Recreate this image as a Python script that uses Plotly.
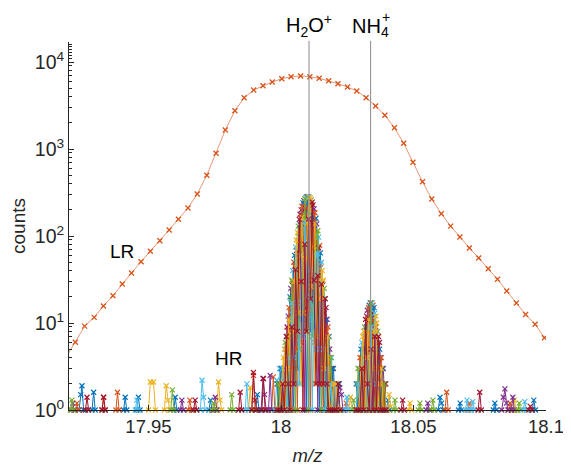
import plotly.graph_objects as go

# ---------------- data ----------------
# low-resolution (LR) spectrum
lr_mz = [17.9188, 17.9224, 17.9259, 17.9295, 17.9330, 17.9366, 17.9401, 17.9436, 17.9472, 17.9507,
         17.9543, 17.9578, 17.9613, 17.9649, 17.9684, 17.9720, 17.9755, 17.9790, 17.9826, 17.9861,
         17.9897, 17.9932, 17.9967, 18.0003, 18.0038, 18.0074, 18.0109, 18.0144, 18.0180, 18.0215,
         18.0251, 18.0286, 18.0321, 18.0357, 18.0392, 18.0428, 18.0463, 18.0498, 18.0534, 18.0569,
         18.0605, 18.0640, 18.0675, 18.0711, 18.0746, 18.0782, 18.0817, 18.0852, 18.0888, 18.0923,
         18.0959, 18.0994]
lr_counts = [4.0, 6.0, 9.2, 11.6, 15.7, 20.6, 28.1, 37.6, 50.7, 66.7,
             88.3, 117, 156, 210, 304, 499, 892, 1653, 2755, 3890,
             4766, 5343, 5891, 6428, 6776, 6903, 6776, 6500, 6097, 5632,
             5160, 4643, 3890, 3120, 2440, 1757, 1164, 703, 421, 266,
             180, 130, 97.4, 72.8, 55.9, 42.1, 31.8, 23.3, 17.0, 12.5,
             9.66, 6.78]

# high-resolution (HR) spectra, scan set A: H2O+ peak region
h2o_mz_a = [17.9985, 17.9992, 17.9999, 18.0006, 18.0013, 18.0020, 18.0027, 18.0034, 18.0041, 18.0048,
            18.0055, 18.0062, 18.0069, 18.0076, 18.0083, 18.0090, 18.0097, 18.0104, 18.0111, 18.0118,
            18.0125, 18.0132, 18.0139, 18.0146, 18.0153, 18.0160, 18.0167, 18.0174, 18.0181, 18.0188,
            18.0195, 18.0202, 18.0209, 18.0216, 18.0223]
h2o_a_blue = [2, 1, 1, 1, 1, 4, 1, 20, 5, 1, 23, 3, 85, 14, 240, 40, 1, 85, 8, 135,
              14, 160, 17, 1, 15, 1, 10, 1, 7, 1, 1, 1, 1, 1, 1]
h2o_a_orange = [1, 1, 3, 1, 1, 2, 1, 11, 2, 50, 11, 1, 47, 6, 132, 19, 282, 43, 1, 74,
                6, 88, 8, 78, 8, 1, 6, 1, 4, 1, 3, 1, 1, 1, 1]
h2o_a_yellow = [1, 1, 2, 1, 5, 1, 1, 6, 1, 28, 5, 110, 23, 2, 72, 8, 155, 20, 272, 37,
                2, 48, 3, 43, 4, 31, 3, 1, 2, 1, 2, 1, 2, 1, 1]
h2o_a_purple = [1, 1, 1, 1, 3, 1, 12, 3, 1, 15, 2, 61, 11, 200, 36, 1, 85, 9, 150, 17,
                205, 24, 1, 23, 2, 17, 1, 11, 1, 1, 1, 1, 1, 1, 1]
h2o_a_green = [1, 2, 1, 1, 2, 1, 7, 1, 31, 8, 1, 33, 5, 110, 17, 268, 42, 1, 82, 7,
               113, 11, 115, 12, 1, 9, 1, 6, 1, 4, 1, 1, 1, 1, 1]
h2o_a_lightblue = [1, 1, 1, 3, 1, 1, 4, 1, 17, 4, 75, 17, 2, 60, 7, 147, 20, 284, 41, 1,
                   62, 5, 63, 5, 50, 5, 1, 3, 1, 2, 1, 2, 1, 1, 1]
h2o_a_darkred = [1, 1, 1, 2, 1, 7, 2, 1, 9, 2, 41, 8, 155, 30, 1, 80, 8, 156, 19, 245,
                 31, 2, 35, 2, 28, 2, 19, 2, 1, 1, 1, 1, 1, 2, 1]

# HR scan set B: H2O+ peak region
h2o_mz_b = [17.9988, 17.9995, 18.0002, 18.0009, 18.0016, 18.0023, 18.0030, 18.0037, 18.0044, 18.0051,
            18.0058, 18.0065, 18.0072, 18.0079, 18.0086, 18.0093, 18.0100, 18.0107, 18.0114, 18.0121,
            18.0128, 18.0135, 18.0142, 18.0149, 18.0156, 18.0163, 18.0170, 18.0177, 18.0184, 18.0191,
            18.0198, 18.0205, 18.0212, 18.0219]
h2o_b_purple = [2, 1, 1, 3, 1, 2, 8, 25, 4, 20, 68, 7, 36, 110, 255, 28, 94, 210, 13, 46,
                93, 138, 10, 21, 30, 1, 3, 5, 5, 1, 1, 2, 1, 1]
h2o_b_green = [2, 1, 1, 2, 6, 1, 5, 19, 2, 12, 45, 130, 18, 73, 191, 14, 57, 140, 260, 23,
               61, 104, 5, 13, 20, 25, 2, 3, 4, 1, 1, 1, 2, 1]
h2o_b_lightblue = [1, 3, 1, 1, 5, 1, 3, 13, 40, 6, 30, 98, 9, 44, 128, 276, 28, 92, 195, 11,
                   37, 69, 97, 6, 13, 19, 1, 2, 3, 4, 1, 1, 2, 1]
h2o_b_darkred = [1, 2, 1, 1, 3, 9, 2, 8, 30, 3, 18, 65, 178, 22, 84, 207, 14, 56, 130, 228,
                 19, 46, 73, 3, 8, 13, 15, 1, 2, 3, 1, 1, 1, 2]
h2o_b_blue = [1, 2, 3, 1, 2, 7, 1, 5, 20, 60, 9, 43, 134, 11, 51, 138, 284, 28, 86, 171,
              9, 28, 49, 64, 4, 8, 11, 1, 1, 2, 3, 1, 1, 2]
h2o_b_orange = [1, 1, 2, 1, 1, 5, 15, 3, 13, 45, 5, 26, 89, 220, 26, 91, 213, 14, 52, 114,
                185, 14, 32, 48, 2, 5, 8, 9, 1, 1, 2, 1, 1, 1]
h2o_b_yellow = [1, 1, 2, 4, 1, 3, 11, 1, 8, 30, 90, 13, 59, 165, 13, 55, 142, 280, 26, 75,
                139, 7, 19, 32, 40, 3, 5, 7, 1, 1, 2, 2, 1, 1]

# HR scan set A: NH4+ peak region
nh4_mz_a = [18.0284, 18.0291, 18.0298, 18.0305, 18.0312, 18.0319, 18.0326, 18.0333, 18.0340, 18.0347,
            18.0354, 18.0361, 18.0368, 18.0375, 18.0382, 18.0389, 18.0396]
nh4_a_blue = [2, 1, 1, 2, 1, 6, 1, 16, 3, 1, 4, 1, 4, 1, 3, 1, 1]
nh4_a_orange = [1, 1, 4, 1, 1, 3, 1, 9, 1, 16, 2, 1, 2, 1, 2, 1, 2]
nh4_a_yellow = [1, 1, 2, 1, 8, 2, 1, 5, 1, 9, 1, 10, 1, 1, 1, 1, 1]
nh4_a_purple = [1, 1, 1, 1, 4, 1, 14, 2, 1, 5, 1, 6, 1, 4, 1, 1, 1]
nh4_a_green = [1, 3, 1, 1, 2, 1, 8, 1, 17, 2, 1, 3, 1, 2, 1, 2, 1]
nh4_a_lightblue = [1, 2, 1, 6, 1, 1, 4, 1, 9, 1, 13, 2, 1, 1, 1, 1, 1]
nh4_a_darkred = [1, 1, 1, 3, 1, 11, 2, 1, 5, 1, 7, 1, 7, 1, 1, 1, 1]

# HR scan set B: NH4+ peak region
nh4_mz_b = [18.0288, 18.0295, 18.0302, 18.0309, 18.0316, 18.0323, 18.0330, 18.0337, 18.0344, 18.0351,
            18.0358, 18.0365, 18.0372, 18.0379, 18.0386, 18.0393]
nh4_b_purple = [2, 1, 2, 5, 1, 2, 8, 17, 2, 5, 9, 1, 1, 2, 3, 1]
nh4_b_green = [2, 1, 1, 4, 9, 1, 5, 13, 1, 3, 6, 8, 1, 1, 2, 1]
nh4_b_lightblue = [1, 3, 1, 2, 7, 1, 3, 9, 17, 2, 4, 6, 1, 1, 2, 2]
nh4_b_darkred = [1, 2, 1, 1, 5, 12, 2, 6, 13, 1, 2, 4, 6, 1, 1, 2]
nh4_b_blue = [1, 2, 5, 1, 3, 9, 1, 3, 9, 15, 1, 3, 5, 1, 1, 1]
nh4_b_orange = [1, 1, 4, 1, 2, 6, 15, 2, 6, 11, 1, 2, 3, 4, 1, 1]
nh4_b_yellow = [1, 1, 3, 7, 1, 4, 11, 1, 3, 8, 12, 1, 2, 3, 1, 1]

# HR background noise blips (None = zero counts, not drawn on a log axis)
noise_mz_blue = [17.9238, 17.9244, 17.9249, 17.9255, None, 17.9287, 17.9293, 17.9299, None,
                 17.9406, 17.9412, 17.9418, None, 17.9456, 17.9462, 17.9468, None,
                 17.9595, 17.9601, 17.9607, None, 17.9728, 17.9734, 17.9740, None,
                 17.9905, 17.9911, 17.9917, None, 18.0398, 18.0404, 18.0410, None,
                 18.0593, 18.0600, 18.0606, 18.0612, None, 18.0670, 18.0676, 18.0682, None,
                 18.0801, 18.0807, 18.0813, None, 18.0948, 18.0954, 18.0960]
noise_counts_blue = [1, 1.5, 1.9, 1, None, 1, 1.6, 1, None,
                     1, 1.4, 1, None, 1, 1.4, 1, None,
                     1, 1.4, 1, None, 1, 1.3, 1, None,
                     1, 1.5, 1, None, 1, 1.3, 1, None,
                     1, 1.4, 1.2, 1, None, 1, 1.2, 1, None,
                     1, 1.2, 1, None, 1, 1.3, 1]
noise_mz_orange = [17.9224, 17.9230, 17.9236, None, 17.9324, 17.9330, 17.9336, None,
                   17.9377, 17.9383, 17.9389, None, 17.9650, 17.9656, 17.9662, None,
                   17.9890, 17.9896, 17.9902, None, 17.9965, 17.9971, 17.9977, None,
                   18.0240, 18.0246, 18.0252, None, 18.0619, 18.0625, 18.0631, None,
                   18.0705, 18.0711, 18.0717, None, 18.0858, 18.0864, 18.0870]
noise_counts_orange = [1, 1.2, 1, None, 1, 1.4, 1, None,
                       1, 1.6, 1, None, 1, 1.3, 1, None,
                       1, 2.5, 1, None, 1, 2.4, 1, None,
                       1, 1.2, 1, None, 1, 1.6, 1, None,
                       1, 1.2, 1, None, 1, 1.2, 1]
noise_mz_yellow = [17.9500, 17.9507, 17.9519, 17.9526, None, 17.9560, 17.9567, 17.9574, 17.9580, None,
                   17.9758, 17.9764, 17.9770, 17.9776, None, 17.9878, 17.9884, 17.9890, None,
                   18.0255, 18.0262, 18.0268, None, 18.0402, 18.0408, 18.0414, None,
                   18.0481, 18.0487, 18.0493, None, 18.0875, 18.0881, 18.0887]
noise_counts_yellow = [1, 2.1, 2.1, 1, None, 1, 1.9, 1.3, 1, None,
                       1, 2.1, 1.3, 1, None, 1, 1.8, 1, None,
                       1, 1.4, 1, None, 1, 1.5, 1.1, None,
                       1, 1.2, 1, None, 1, 1.3, 1]
noise_mz_purple = [17.9208, 17.9214, 17.9220, None, 17.9620, 17.9626, 17.9632, None,
                   17.9746, 17.9752, 17.9758, None, 17.9925, 17.9932, 17.9938, 17.9944, None,
                   17.9953, 17.9959, 17.9965, None, 18.0222, 18.0228, 18.0234, None,
                   18.0548, 18.0554, 18.0560, None, 18.0833, 18.0839, 18.0845, 18.0851, 18.0857, None,
                   18.0869, 18.0875, 18.0881]
noise_counts_purple = [1, 1.2, 1, None, 1, 1.3, 1, None,
                       1, 1.4, 1, None, 1, 2.3, 1.5, 1, None,
                       1, 2.5, 1, None, 1.8, 1.5, 1, None,
                       1, 1.2, 1, None, 1, 1.4, 1.75, 1.2, 1, None,
                       1, 1.4, 1]
noise_mz_green = [17.9205, 17.9211, 17.9217, None, 17.9584, 17.9590, 17.9596, None,
                  17.9740, 17.9746, 17.9752, None, 17.9808, 17.9814, 17.9820, None,
                  18.0268, 18.0274, 18.0280, None, 18.0424, 18.0430, 18.0436, None,
                  18.0518, 18.0524, 18.0530, None, 18.0567, 18.0573, 18.0579, None,
                  18.0893, 18.0899, 18.0905]
noise_counts_green = [1, 1.3, 1, None, 1, 1.7, 1, None,
                      1, 1.2, 1, None, 1, 1.5, 1, None,
                      1, 1.3, 1, None, 1, 1.3, 1, None,
                      1, 1.2, 1, None, 1, 1.3, 1, None,
                      1, 1.2, 1]
noise_mz_lightblue = [17.9450, 17.9456, 17.9462, None, 17.9696, 17.9702, 17.9708, 17.9714, None,
                      17.9865, 17.9871, 17.9877, None, 17.9978, 17.9984, 17.9990, None,
                      18.0243, 18.0249, 18.0255, None, 18.0696, 18.0702, 18.0708, None,
                      18.0718, 18.0724, 18.0730, None, 18.0914, 18.0920, 18.0926]
noise_counts_lightblue = [1, 1.3, 1, None, 1, 2.2, 1.4, 1, None,
                          1, 2.0, 1, None, 1, 2.2, 1, None,
                          1, 1.4, 1, None, 1, 1.3, 1, None,
                          1, 1.25, 1, None, 1, 1.25, 1]
noise_mz_darkred = [17.9262, 17.9268, 17.9274, None, 17.9325, 17.9331, 17.9337, None,
                    17.9670, 17.9676, 17.9682, None, 17.9840, 17.9846, 17.9852, None,
                    17.9890, 17.9896, 17.9902, 17.9908, None, 17.9928, 17.9934, 17.9940, None,
                    18.0453, 18.0459, 18.0465, None, 18.0744, 18.0750, 18.0756, None,
                    18.0935, 18.0941, 18.0947]
noise_counts_darkred = [1, 1.4, 1, None, 1, 1.4, 1, None,
                        1, 1.3, 1, None, 1, 1.6, 1, None,
                        1, 2.7, 1.3, 1, None, 1, 2.3, 1, None,
                        1, 1.3, 1, None, 1, 1.6, 1, None,
                        1, 1.1, 1]

# reference ion masses and labels
ion_labels = ["H<sub>2</sub>O<sup>+</sup>", "NH<sub>4</sub>"]
ion_mz = [18.010565, 18.033826]

y_tickvals = [1, 10, 100, 1000, 10000]
y_ticktext = ["10<sup>0</sup>", "10<sup>1</sup>", "10<sup>2</sup>", "10<sup>3</sup>", "10<sup>4</sup>"]
x_tickvals = [17.95, 18.0, 18.05, 18.1]
x_ticktext = ["17.95", "18", "18.05", "18.1"]

# ---------------- figure ----------------
BLUE, ORANGE, YELLOW, PURPLE, GREEN, LBLUE, DRED = (
    "#0072BD", "#D95319", "#EDB120", "#7E2F8E", "#77AC30", "#4DBEEE", "#A2142F")

hr_traces = [
    (BLUE, noise_mz_blue, noise_counts_blue),
    (ORANGE, noise_mz_orange, noise_counts_orange),
    (YELLOW, noise_mz_yellow, noise_counts_yellow),
    (PURPLE, noise_mz_purple, noise_counts_purple),
    (GREEN, noise_mz_green, noise_counts_green),
    (LBLUE, noise_mz_lightblue, noise_counts_lightblue),
    (DRED, noise_mz_darkred, noise_counts_darkred),
    (PURPLE, h2o_mz_b, h2o_b_purple), (PURPLE, nh4_mz_b, nh4_b_purple),
    (BLUE, h2o_mz_a, h2o_a_blue), (BLUE, nh4_mz_a, nh4_a_blue),
    (GREEN, h2o_mz_b, h2o_b_green), (GREEN, nh4_mz_b, nh4_b_green),
    (ORANGE, h2o_mz_a, h2o_a_orange), (ORANGE, nh4_mz_a, nh4_a_orange),
    (LBLUE, h2o_mz_b, h2o_b_lightblue), (LBLUE, nh4_mz_b, nh4_b_lightblue),
    (YELLOW, h2o_mz_a, h2o_a_yellow), (YELLOW, nh4_mz_a, nh4_a_yellow),
    (DRED, h2o_mz_b, h2o_b_darkred), (DRED, nh4_mz_b, nh4_b_darkred),
    (PURPLE, h2o_mz_a, h2o_a_purple), (PURPLE, nh4_mz_a, nh4_a_purple),
    (BLUE, h2o_mz_b, h2o_b_blue), (BLUE, nh4_mz_b, nh4_b_blue),
    (GREEN, h2o_mz_a, h2o_a_green), (GREEN, nh4_mz_a, nh4_a_green),
    (ORANGE, h2o_mz_b, h2o_b_orange), (ORANGE, nh4_mz_b, nh4_b_orange),
    (LBLUE, h2o_mz_a, h2o_a_lightblue), (LBLUE, nh4_mz_a, nh4_a_lightblue),
    (YELLOW, h2o_mz_b, h2o_b_yellow), (YELLOW, nh4_mz_b, nh4_b_yellow),
    (DRED, h2o_mz_a, h2o_a_darkred), (DRED, nh4_mz_a, nh4_a_darkred),
]

fig = go.Figure()
for color, xs, ys in hr_traces:
    fig.add_trace(go.Scatter(
        x=xs, y=ys, mode="lines+markers",
        line=dict(color=color, width=1),
        marker=dict(symbol="x-thin", size=5, line=dict(width=1.2, color=color)),
        cliponaxis=False, connectgaps=False, showlegend=False, hoverinfo="skip"))

fig.add_trace(go.Scatter(
    x=lr_mz, y=lr_counts, mode="lines+markers",
    line=dict(color="rgba(217,83,25,0.6)", width=1),
    marker=dict(symbol="x-thin", size=5, line=dict(width=1.3, color=ORANGE)),
    showlegend=False))

axis_color = "#262626"
# the page body has an 8px default margin, so the figure is sized to fill the
# remaining 563x458 area of the 571x466 window
fig.update_layout(
    width=563, height=458,
    margin=dict(l=61, r=25, t=34, b=56),
    plot_bgcolor="white", paper_bgcolor="white",
    font=dict(family="Liberation Sans, Arial, sans-serif", size=18, color=axis_color),
    showlegend=False,
    xaxis=dict(range=[17.92, 18.1], tickmode="array", tickvals=x_tickvals, ticktext=x_ticktext,
               ticks="inside", ticklen=5, tickwidth=1, tickcolor=axis_color,
               showline=True, linecolor=axis_color, linewidth=1, mirror=False,
               showgrid=False, zeroline=False, automargin=False,
               tickfont=dict(size=18.5),
               title=dict(text="<i>m/z</i>", font=dict(size=18.5), standoff=13)),
    yaxis=dict(type="log", range=[0, 4.23], tickmode="array", tickvals=y_tickvals, ticktext=y_ticktext,
               ticks="inside", ticklen=5, tickwidth=1, tickcolor=axis_color,
               minor=dict(ticks="inside", ticklen=3, tickwidth=1, tickcolor=axis_color,
                          tickvals=[2, 3, 4, 5, 6, 7, 8, 9, 20, 30, 40, 50, 60, 70, 80, 90,
                                    200, 300, 400, 500, 600, 700, 800, 900,
                                    2000, 3000, 4000, 5000, 6000, 7000, 8000, 9000,
                                    11000, 12000, 13000, 14000, 15000, 16000]),
               showline=True, linecolor=axis_color, linewidth=1,
               showgrid=False, zeroline=False, automargin=False,
               tickfont=dict(size=19.5),
               title=dict(text="counts", font=dict(size=19), standoff=4)),
)

for mz in ion_mz:
    fig.add_shape(type="line", x0=mz, x1=mz, xref="x", y0=0, y1=1.003, yref="paper",
                  line=dict(color="#8a8a8a", width=1), layer="above")

fig.add_annotation(x=ion_mz[0], y=1, xref="x", yref="paper", text=ion_labels[0], showarrow=False,
                   yanchor="bottom", xanchor="center", yshift=0, font=dict(size=20, color="black"))
fig.add_annotation(x=ion_mz[1], y=1, xref="x", yref="paper", text=ion_labels[1], showarrow=False,
                   yanchor="bottom", xanchor="center", yshift=0, font=dict(size=20, color="black"))
fig.add_annotation(x=ion_mz[1], y=1, xref="x", yref="paper", text="+", showarrow=False,
                   yanchor="bottom", xanchor="center", xshift=15, yshift=15, font=dict(size=14, color="black"))

fig.add_annotation(x=17.94, y=1.82, xref="x", yref="y", text="LR", showarrow=False,
                   font=dict(size=19, color="black"))
fig.add_annotation(x=17.98, y=0.594, xref="x", yref="y", text="HR", showarrow=False,
                   font=dict(size=19, color="black"))

fig.write_html("out.html")
